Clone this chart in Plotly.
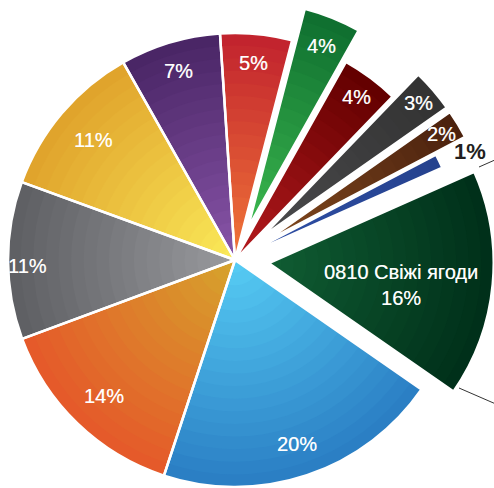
import numpy as np
import plotly.graph_objects as go

# ---- data -------------------------------------------------------------
categories = [
    "0810 Свіжі ягоди", "Категорія 2", "Категорія 3", "Категорія 4",
    "Категорія 5", "Категорія 6", "Категорія 7", "Категорія 8",
    "Категорія 9", "Категорія 10", "Категорія 11", "Категорія 12",
]
shares = [16, 20, 14, 11, 11, 7, 5, 4, 4, 3, 2, 1]
pulled = [True, False, False, False, False, False, False, True, False, True, True, False]
show_name = [True] + [False] * 11

# ---- style --------------------------------------------------------------
outer_colors = ["#00301a", "#2b7fc4", "#e55a2a", "#5f6064", "#e0a42c", "#4a2666",
                "#c2242e", "#107030", "#640000", "#333333", "#4c220e", "#25428e"]
inner_colors = ["#105c32", "#55caf3", "#d6a22c", "#98999d", "#fae858", "#8854a8",
                "#f07438", "#3ab64e", "#b41a1e", "#4a4a4c", "#80481e", "#3050a8"]
label_radius = [0.59, 0.855, 0.83, 0.915, 0.82, 0.87, 0.87, 0.866, 0.895, 0.913, 0.914, 1.15]
label_yshift = [-9, 0, 0, -6, 0, 0, 0, 0, 0, 0, 0, -5]

W, H = 494, 488
CX, CY, R = 235.0, 260.0, 227.0   # pie centre and radius in pixels
ROTATION = 66
PULL = 0.15
N_LAYERS = 18
BORDER = 2.5
FONT = "Liberation Sans, Arial, sans-serif"
CLEAR = "rgba(0,0,0,0)"

n = len(shares)
total = sum(shares)
span = np.array(shares) / total * 360.0
starts = ROTATION + np.concatenate([[0.0], np.cumsum(span)[:-1]])
mids = np.radians(starts + span / 2)


def rgb(h):
    h = h.lstrip("#")
    return [int(h[i:i + 2], 16) for i in (0, 2, 4)]


def mix(c1, c2, t):
    a, b = rgb(c1), rgb(c2)
    return "rgb(%d,%d,%d)" % tuple(round(a[j] + (b[j] - a[j]) * t) for j in range(3))


def domain_for(cx, cy, r):
    return dict(
        x=[max(0.0, (cx - r) / W), min(1.0, (cx + r) / W)],
        y=[max(0.0, (H - cy - r) / H), min(1.0, (H - cy + r) / H)],
    )


# one group for the slices that stay in place, one per exploded slice
groups = [([i for i in range(n) if not pulled[i]], CX, CY)]
for i in range(n):
    if pulled[i]:
        off = PULL * R
        groups.append(([i], CX + off * np.sin(mids[i]), CY - off * np.cos(mids[i])))

fig = go.Figure()
centre_of = {}
for members, gx, gy in groups:
    r_fit = min(R, gx, W - gx, gy, H - gy) - 0.01
    for i in members:
        centre_of[i] = (gx, gy, r_fit)
    common = dict(labels=categories, values=shares, sort=False, direction="clockwise",
                  rotation=ROTATION, textinfo="none", hoverinfo="skip", showlegend=False)
    # stacked discs, darker at the rim and lighter toward the centre
    for k in range(N_LAYERS):
        f = 1 - k / N_LAYERS
        t = k / (N_LAYERS - 1)
        cols = [mix(outer_colors[i], inner_colors[i], t) if i in members else CLEAR
                for i in range(n)]
        fig.add_trace(go.Pie(**common, domain=domain_for(gx, gy, r_fit * f),
                             marker=dict(colors=cols, line=dict(width=0))))
    # white slice outlines on top
    fig.add_trace(go.Pie(**common, domain=domain_for(gx, gy, r_fit),
                         marker=dict(colors=[CLEAR] * n,
                                     line=dict(color="white",
                                               width=[BORDER if i in members else 0
                                                      for i in range(n)]))))

annotations = []
for i in range(n):
    gx, gy, r_fit = centre_of[i]
    px = gx + label_radius[i] * r_fit * np.sin(mids[i])
    py = gy - label_radius[i] * r_fit * np.cos(mids[i])
    text = f"{shares[i]}%"
    if show_name[i]:
        text = f"{categories[i]}<br>{text}"
    outside = label_radius[i] > 1
    if outside:
        font = dict(family=FONT, size=22, color="#231f20", weight="bold")
    else:
        font = dict(family=FONT, size=20, color="white",
                    shadow="0.3px 0 0 rgba(255,255,255,0.6)")
    annotations.append(dict(
        x=px / W, y=1 - py / H, xref="paper", yref="paper", showarrow=False,
        xanchor="center", yanchor="middle", yshift=label_yshift[i],
        text=text, font=font,
    ))

shapes = [
    dict(type="line", xref="paper", yref="paper", x0=479 / W, y0=1 - 167 / H,
         x1=505 / W, y1=1 - 155.5 / H, line=dict(color="#333333", width=1)),
    dict(type="line", xref="paper", yref="paper", x0=459 / W, y0=1 - 388 / H,
         x1=505 / W, y1=1 - 408 / H, line=dict(color="#333333", width=1)),
]

fig.update_layout(
    width=W, height=H, margin=dict(l=0, r=0, t=0, b=0),
    paper_bgcolor="white", plot_bgcolor="white",
    annotations=annotations, shapes=shapes,
    font=dict(family=FONT),
)

fig.write_html("out.html")
